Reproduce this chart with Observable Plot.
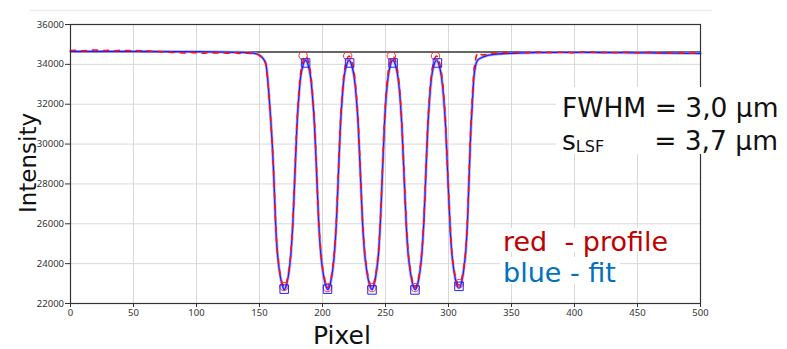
<!DOCTYPE html>
<html>
<head>
<meta charset="utf-8">
<script src="https://cdn.jsdelivr.net/npm/d3@7"></script>
<script src="https://cdn.jsdelivr.net/npm/@observablehq/plot@0.6"></script>
<style>
  html, body { margin: 0; padding: 0; background: #fff; }
  #wrap { position: relative; width: 787px; height: 349px; overflow: hidden; }
</style>
</head>
<body>
<div id="wrap"></div>
<script>
// ---- tick values ----
const xTicks = [0, 50, 100, 150, 200, 250, 300, 350, 400, 450, 500];
const yTicks = [22000, 24000, 26000, 28000, 30000, 32000, 34000, 36000];
const refLevel = [34615];

// ---- fit (blue) ----
const fitPixel = [0, 20, 40, 60, 80, 100, 120, 130, 140, 145, 148, 150, 152, 153.5, 155, 156, 157, 158, 159, 160, 161, 162, 163, 164, 165, 166, 167, 168, 169.7,
  171.6, 173.6, 175.0, 176.5, 178.1, 179.7, 181.2, 182.6, 184.6, 186.5,
  188.6, 190.6, 192.1, 193.7, 195.4, 197.0, 198.6, 200.1, 202.2, 204.2,
  206.2, 208.1, 209.5, 211.0, 212.6, 214.2, 215.7, 217.1, 219.1, 221.0,
  223.1, 225.2, 226.8, 228.4, 230.1, 231.8, 233.4, 235.0, 237.1, 239.2,
  241.1, 243.0, 244.5, 245.9, 247.5, 249.1, 250.5, 252.0, 253.9, 255.8,
  257.9, 259.9, 261.5, 263.0, 264.7, 266.4, 267.9, 269.5, 271.5, 273.6,
  275.6, 277.5, 278.9, 280.4, 282.0, 283.6, 285.1, 286.5, 288.5, 290.4,
  292.5, 294.5, 296.1, 297.7, 299.4, 301.1, 302.6, 304.2, 306.2, 308.3,
  310.3, 312.3, 313.8, 315.2, 316.4, 317.6, 318.8, 320.1, 321.5, 323, 326, 330, 336, 345, 355, 370, 390, 410, 430, 450, 470, 490, 500];
const fitIntensity = [34650, 34650, 34650, 34645, 34640, 34635, 34615, 34605, 34590, 34560, 34520, 34460, 34360, 34230, 34050, 33600, 32900, 32050, 31150, 30150, 28900, 27300, 25700, 24700, 24050, 23550, 23200, 22930, 22700,
  22990, 23680, 24540, 26040, 28450, 30870, 32360, 33340, 33970, 34200,
  33970, 33340, 32360, 30870, 28450, 26040, 24540, 23680, 22990, 22700,
  22990, 23680, 24540, 26040, 28450, 30870, 32360, 33340, 33970, 34200,
  33970, 33340, 32360, 30870, 28450, 26040, 24540, 23680, 22990, 22700,
  22990, 23680, 24540, 26040, 28450, 30870, 32360, 33340, 33970, 34200,
  33970, 33340, 32360, 30870, 28450, 26040, 24540, 23680, 22990, 22700,
  22990, 23680, 24540, 26040, 28450, 30870, 32360, 33340, 33970, 34200,
  33970, 33340, 32360, 30870, 28450, 26040, 24540, 23680, 23030, 22780,
  23050, 23800, 24700, 26300, 28450, 30500, 31900, 33300, 33950, 34200, 34330, 34430, 34500, 34540, 34570, 34590, 34600, 34600, 34590, 34580, 34570, 34555, 34550];

// ---- profile (red) ----
const profilePixel = [0, 5, 10, 15, 20, 25, 30, 35, 40, 45, 50, 55, 60, 65, 70, 75, 80, 85, 90, 95, 100, 105, 110, 115, 120, 125, 130, 135, 140, 145,
  148, 150, 152, 153.5, 155, 156, 157, 158, 159, 160, 161, 162, 163, 164, 165, 166, 167, 168, 169.7,
  171.6, 173.6, 175.0, 176.5, 178.1, 179.7, 181.2, 182.6, 184.6, 186.5,
  188.6, 190.6, 192.1, 193.7, 195.4, 197.0, 198.6, 200.1, 202.2, 204.2,
  206.2, 208.1, 209.5, 211.0, 212.6, 214.2, 215.7, 217.1, 219.1, 221.0,
  223.1, 225.2, 226.8, 228.4, 230.1, 231.8, 233.4, 235.0, 237.1, 239.2,
  241.1, 243.0, 244.5, 245.9, 247.5, 249.1, 250.5, 252.0, 253.9, 255.8,
  257.9, 259.9, 261.5, 263.0, 264.7, 266.4, 267.9, 269.5, 271.5, 273.6,
  275.6, 277.5, 278.9, 280.4, 282.0, 283.6, 285.1, 286.5, 288.5, 290.4,
  292.5, 294.5, 296.1, 297.7, 299.4, 301.1, 302.6, 304.2, 306.2, 308.3,
  310.3, 312.3, 313.8, 315.2, 316.4, 317.6, 318.8, 320.1, 321.5, 322.7, 323.6, 325, 327, 330, 333, 337, 342, 348, 355, 362, 370, 380, 390, 400, 410, 420, 430, 440, 450, 460, 470, 480, 490, 500];
const profileIntensity = [34690, 34710, 34680, 34700, 34720, 34690, 34700, 34680, 34710, 34690, 34700, 34680, 34690, 34650, 34640, 34620, 34600, 34590, 34570, 34600, 34580, 34560, 34590, 34570, 34580, 34560, 34580, 34550, 34560, 34540,
  34520, 34440, 34330, 34200, 34000, 33550, 32850, 32000, 31100, 30100, 28850, 27300, 25750, 24750, 24100, 23620, 23280, 23020, 22850,
  23090, 23790, 24660, 26160, 28600, 31040, 32540, 33530, 34170, 34430,
  34170, 33530, 32540, 31040, 28600, 26160, 24660, 23790, 23090, 22800,
  23090, 23790, 24660, 26160, 28600, 31040, 32540, 33530, 34170, 34420,
  34170, 33530, 32540, 31040, 28600, 26160, 24660, 23790, 23090, 22800,
  23090, 23790, 24660, 26160, 28600, 31040, 32540, 33530, 34170, 34420,
  34170, 33530, 32540, 31040, 28600, 26160, 24660, 23790, 23090, 22800,
  23090, 23790, 24660, 26160, 28600, 31040, 32540, 33530, 34170, 34420,
  34170, 33530, 32540, 31040, 28600, 26160, 24660, 23790, 23150, 22930,
  23200, 23900, 24800, 26400, 28600, 30700, 32200, 33600, 34250, 34520, 34580, 34540, 34470, 34500, 34540, 34560, 34600, 34580, 34610, 34590, 34620, 34600, 34610, 34590, 34620, 34600, 34590, 34610, 34580, 34600, 34570, 34590, 34560, 34570];

// ---- extremum markers ----
const circlePixel = [169.4, 184.6, 203.9, 220.0, 239.2, 254.6, 273.5, 289.7, 308.5];
const circleIntensity = [22850, 34440, 22800, 34420, 22800, 34420, 22800, 34420, 23000];
const squarePixel = [169.6, 186.6, 204.0, 221.5, 239.3, 256.0, 273.4, 291.2, 308.3];
const squareIntensity = [22720, 34070, 22720, 34070, 22680, 34070, 22680, 34070, 22860];

const fitData = fitPixel.map((p, i) => ({pixel: p, value: fitIntensity[i]}));
const profileData = profilePixel.map((p, i) => ({pixel: p, value: profileIntensity[i]}));
const circles = circlePixel.map((p, i) => ({pixel: p, value: circleIntensity[i]}));
const squares = squarePixel.map((p, i) => ({pixel: p, value: squareIntensity[i]}));

const chart = Plot.plot({
  width: 787, height: 349,
  marginLeft: 70, marginRight: 87, marginTop: 24, marginBottom: 46,
  style: {fontFamily: "'Noto Sans', sans-serif", fontSize: "9.5px", color: "#333", background: "#fff", overflow: "visible"},
  x: {domain: [0, 500]},
  y: {domain: [22000, 36000]},
  marks: [
    Plot.gridX(xTicks, {stroke: "#d9d9d9", strokeOpacity: 1, strokeWidth: 1}),
    Plot.gridY(yTicks, {stroke: "#d9d9d9", strokeOpacity: 1, strokeWidth: 1}),
    Plot.ruleY(refLevel, {stroke: "#333", strokeWidth: 1.5}),
    Plot.line(fitData, {x: "pixel", y: "value", stroke: "#9a9aff", strokeWidth: 3, strokeOpacity: 0.75, curve: "monotone-x"}),
    Plot.line(fitData, {x: "pixel", y: "value", stroke: "#1c1cff", strokeWidth: 1.3, curve: "monotone-x"}),
    Plot.line(profileData, {x: "pixel", y: "value", stroke: "#ff1010", strokeWidth: 1.6, strokeDasharray: "5,6", curve: "monotone-x"}),
    Plot.dot(circles, {x: "pixel", y: "value", r: 4.2, stroke: "#ff3030", strokeWidth: 1, fill: "none"}),
    Plot.dot(squares, {x: "pixel", y: "value", symbol: "square", r: 4.8, stroke: "#2020ff", strokeWidth: 1, fill: "none"}),
    Plot.frame({stroke: "#333", strokeWidth: 1.2}),
    Plot.axisX({ticks: xTicks, tickSize: 4, tickPadding: 2, tickFormat: "d", label: null}),
    Plot.axisY({ticks: yTicks, tickSize: 5, tickPadding: 1.5, tickFormat: "d", label: null})
  ]
});
document.getElementById("wrap").appendChild(chart);

// ---- annotations ----
const svg = d3.select(chart);
const font = "'DejaVu Sans', Verdana, sans-serif";
// thin page rule above chart
svg.append("line").attr("x1", 30).attr("x2", 712).attr("y1", 10.5).attr("y2", 10.5)
  .attr("stroke", "#ececec").attr("stroke-width", 1.5);

// white boxes behind texts
svg.append("rect").attr("x", 556).attr("y", 87).attr("width", 231).attr("height", 67).attr("fill", "#fff");
svg.append("rect").attr("x", 500).attr("y", 228).attr("width", 174).attr("height", 24).attr("fill", "#fff");
svg.append("rect").attr("x", 500).attr("y", 257).attr("width", 120).attr("height", 27).attr("fill", "#fff");

svg.append("text").attr("x", 562).attr("y", 116.7).attr("text-anchor", "start")
  .attr("font-family", font).attr("font-size", 26.5).attr("fill", "#111")
  .text("FWHM = 3,0 µm");
const t2 = svg.append("text").attr("x", 562).attr("y", 150).attr("text-anchor", "start")
  .attr("font-family", font).attr("font-size", 26.5).attr("fill", "#111");
t2.append("tspan").text("s");
t2.append("tspan").attr("font-size", 16).attr("dy", 2).text("LSF");
svg.append("text").attr("x", 778).attr("y", 150).attr("text-anchor", "end")
  .attr("font-family", font).attr("font-size", 26.5).attr("fill", "#111")
  .text("= 3,7 µm");

svg.append("text").attr("x", 503).attr("y", 251).attr("text-anchor", "start").style("white-space", "pre")
  .attr("font-family", font).attr("font-size", 27).attr("fill", "#c00000")
  .text("red  - profile");
svg.append("text").attr("x", 503).attr("y", 281.5).attr("text-anchor", "start")
  .attr("font-family", font).attr("font-size", 27).attr("fill", "#0070c0")
  .text("blue - fit");

// axis titles
svg.append("text").attr("x", 342).attr("y", 344).attr("text-anchor", "middle")
  .attr("font-family", font).attr("font-size", 25).attr("fill", "#111")
  .text("Pixel");
svg.append("text").attr("transform", "translate(36,163) rotate(-90)").attr("text-anchor", "middle")
  .attr("font-family", font).attr("font-size", 23).attr("fill", "#111")
  .text("Intensity");
</script>
</body>
</html>
